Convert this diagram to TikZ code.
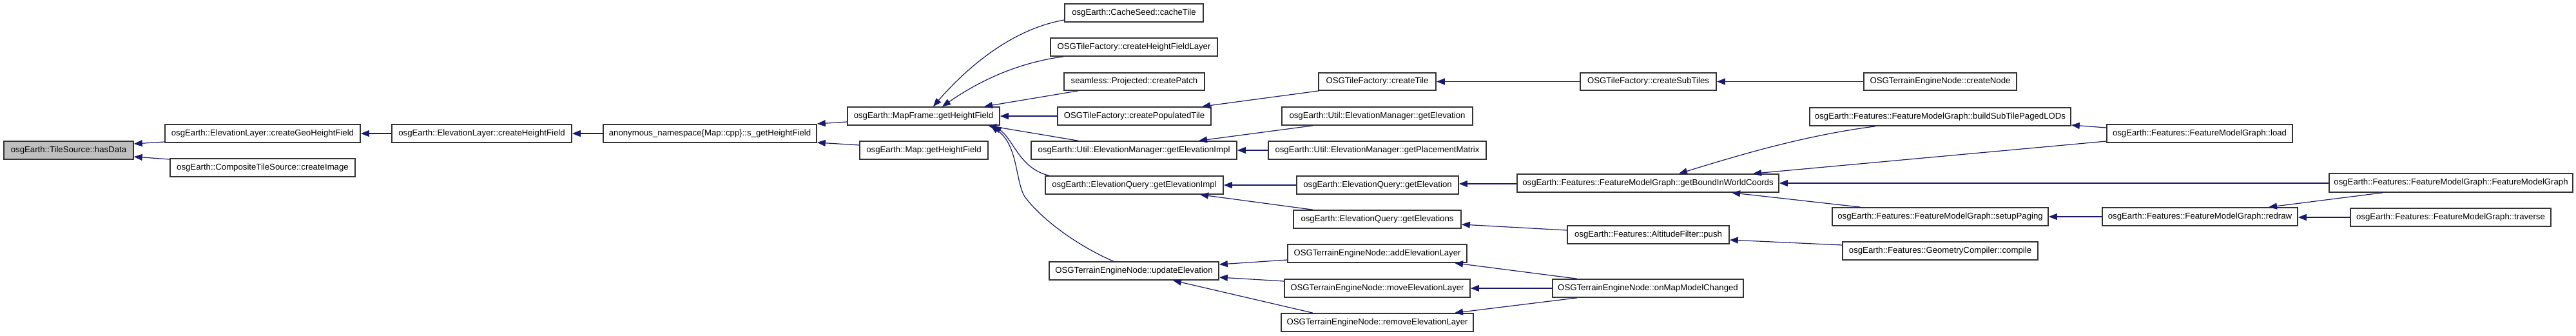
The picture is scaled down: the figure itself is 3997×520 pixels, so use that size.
\documentclass[tikz,border=0pt]{standalone}
\usepackage{fontspec}
\setmainfont{Liberation Sans}
\usetikzlibrary{arrows.meta}
\definecolor{edgec}{HTML}{191970}
\definecolor{rootfill}{HTML}{BFBFBF}
\definecolor{boxline}{HTML}{333333}
\tikzset{
  fn/.style={draw=boxline, line width=0.8pt, inner sep=0pt, align=center,
    font=\fontsize{6.6}{8}\selectfont},
  ca/.style={draw=edgec, line width=0.6pt, {Triangle[length=6.5pt,width=5pt]}-}
}
\newcommand{\bx}[7][]{\node[fn,#1, minimum width={(#5-#3)*0.5pt}, minimum height={(#6-#4)*0.5pt}] (#2) at ({(#3+#5)/2},{(#4+#6)/2}) {#7};}
\begin{document}
\begin{tikzpicture}[x=0.5pt,y=-0.5pt]
\useasboundingbox (0,0) rectangle (3997,520);
\bx[fill=rootfill]{has}{6}{219}{207}{247}{osgEarth::TileSource::hasData}
\bx{geo}{256}{193}{559}{221}{osgEarth::ElevationLayer::createGeoHeightField}
\bx{cimg}{264}{246}{551}{274}{osgEarth::CompositeTileSource::createImage}
\bx{chf}{608}{193}{887}{221}{osgEarth::ElevationLayer::createHeightField}
\bx{shf}{936}{193}{1267}{221}{anonymous\_namespace\{Map::cpp\}::s\_getHeightField}
\bx{mfhf}{1315}{166}{1551}{194}{osgEarth::MapFrame::getHeightField}
\bx{mhf}{1334}{219}{1533}{247}{osgEarth::Map::getHeightField}
\bx{cache}{1652}{6}{1867}{34}{osgEarth::CacheSeed::cacheTile}
\bx{chfl}{1630}{59}{1889}{87}{OSGTileFactory::createHeightFieldLayer}
\bx{patch}{1651}{113}{1869}{140}{seamless::Projected::createPatch}
\bx{cpt}{1641}{166}{1879}{194}{OSGTileFactory::createPopulatedTile}
\bx{emgi}{1600}{219}{1919}{247}{osgEarth::Util::ElevationManager::getElevationImpl}
\bx{eqgi}{1622}{273}{1898}{301}{osgEarth::ElevationQuery::getElevationImpl}
\bx{upd}{1628}{406}{1891}{434}{OSGTerrainEngineNode::updateElevation}
\bx{ctile}{2046}{113}{2228}{140}{OSGTileFactory::createTile}
\bx{emge}{1989}{166}{2285}{194}{osgEarth::Util::ElevationManager::getElevation}
\bx{empm}{1968}{219}{2306}{247}{osgEarth::Util::ElevationManager::getPlacementMatrix}
\bx{eqge}{2012}{273}{2263}{301}{osgEarth::ElevationQuery::getElevation}
\bx{eqges}{2007}{326}{2267}{354}{osgEarth::ElevationQuery::getElevations}
\bx{addl}{1998}{379}{2276}{407}{OSGTerrainEngineNode::addElevationLayer}
\bx{movl}{1993}{433}{2281}{461}{OSGTerrainEngineNode::moveElevationLayer}
\bx{reml}{1988}{486}{2286}{514}{OSGTerrainEngineNode::removeElevationLayer}
\bx{subt}{2452}{113}{2663}{140}{OSGTileFactory::createSubTiles}
\bx{bound}{2354}{270}{2760}{298}{osgEarth::Features::FeatureModelGraph::getBoundInWorldCoords}
\bx{push}{2432}{350}{2683}{378}{osgEarth::Features::AltitudeFilter::push}
\bx{mmc}{2409}{433}{2705}{461}{OSGTerrainEngineNode::onMapModelChanged}
\bx{cnode}{2892}{113}{3129}{140}{OSGTerrainEngineNode::createNode}
\bx{bsub}{2808}{167}{3213}{195}{osgEarth::Features::FeatureModelGraph::buildSubTilePagedLODs}
\bx{setup}{2843}{322}{3178}{350}{osgEarth::Features::FeatureModelGraph::setupPaging}
\bx{comp}{2859}{375}{3162}{403}{osgEarth::Features::GeometryCompiler::compile}
\bx{load}{3269}{193}{3557}{221}{osgEarth::Features::FeatureModelGraph::load}
\bx{redraw}{3262}{322}{3565}{350}{osgEarth::Features::FeatureModelGraph::redraw}
\bx{fmg}{3614}{269}{3992}{298}{osgEarth::Features::FeatureModelGraph::FeatureModelGraph}
\bx{trav}{3647}{323}{3958}{351}{osgEarth::Features::FeatureModelGraph::traverse}

\draw[ca] (has.east |- 0,223) -- (geo.west |- 0,220);
\draw[ca] (has.east |- 0,243) -- (cimg.west |- 0,247);
\draw[ca] (geo) -- (chf);
\draw[ca] (chf) -- (shf);
\draw[ca] (shf.east |- 0,192) -- (mfhf.west |- 0,189);
\draw[ca] (shf.east |- 0,221) -- (mhf.west |- 0,225);
\draw[ca] (1448,0 |- mfhf.north) .. controls (1500,105) and (1570,45) .. (cache.west |- 0,31);
\draw[ca] (1462,0 |- mfhf.north) .. controls (1520,125) and (1580,97) .. (1650,0 |- chfl.south);
\draw[ca] (1527,0 |- mfhf.north) -- (1673,0 |- patch.south);
\draw[ca] (mfhf) -- (cpt);
\draw[ca] (1533,0 |- mfhf.south) -- (1673,0 |- emgi.north);
\draw[ca] (1541,0 |- mfhf.south) .. controls (1572,215) and (1582,262) .. (1628,0 |- eqgi.north);
\draw[ca] (1537,0 |- mfhf.south) .. controls (1580,225) and (1575,280) .. (1590,305) .. controls (1620,345) and (1680,385) .. (1728,0 |- upd.north);
\draw[ca] (1865,0 |- cpt.north) -- (2047,0 |- ctile.south);
\draw[ca] (ctile) -- (subt);
\draw[ca] (subt) -- (cnode);
\draw[ca] (1860,0 |- emgi.north) -- (2037,0 |- emge.south);
\draw[ca] (emgi) -- (empm);
\draw[ca] (eqgi) -- (eqge);
\draw[ca] (1862,0 |- eqgi.south) -- (2037,0 |- eqges.north);
\draw[ca] (eqge.east |- 0,285) -- (bound.west |- 0,285);
\draw[ca] (eqges.east |- 0,348) -- (push.west |- 0,357);
\draw[ca] (upd.east |- 0,410) -- (addl.west |- 0,403);
\draw[ca] (upd.east |- 0,430) -- (movl.west |- 0,436);
\draw[ca] (1820,0 |- upd.south) -- (2037,0 |- reml.north);
\draw[ca] (2257,0 |- addl.south) -- (2447,0 |- mmc.north);
\draw[ca] (movl) -- (mmc);
\draw[ca] (2257,0 |- reml.north) -- (2447,0 |- mmc.south);
\draw[ca] (2605,0 |- bound.north) .. controls (2700,240) and (2800,210) .. (2910,0 |- bsub.south);
\draw[ca] (2720,0 |- bound.north) -- (load.west |- 0,219);
\draw[ca] (bound.east |- 0,284) -- (fmg.west |- 0,284);
\draw[ca] (2687,0 |- bound.south) -- (2887,0 |- setup.north);
\draw[ca] (push.east |- 0,372) -- (comp.west |- 0,380);
\draw[ca] (bsub.east |- 0,194) -- (load.west |- 0,198);
\draw[ca] (setup) -- (redraw);
\draw[ca] (3520,0 |- redraw.north) -- (3697,0 |- fmg.south);
\draw[ca] (redraw.east |- 0,337) -- (trav.west |- 0,337);
\end{tikzpicture}
\end{document}
